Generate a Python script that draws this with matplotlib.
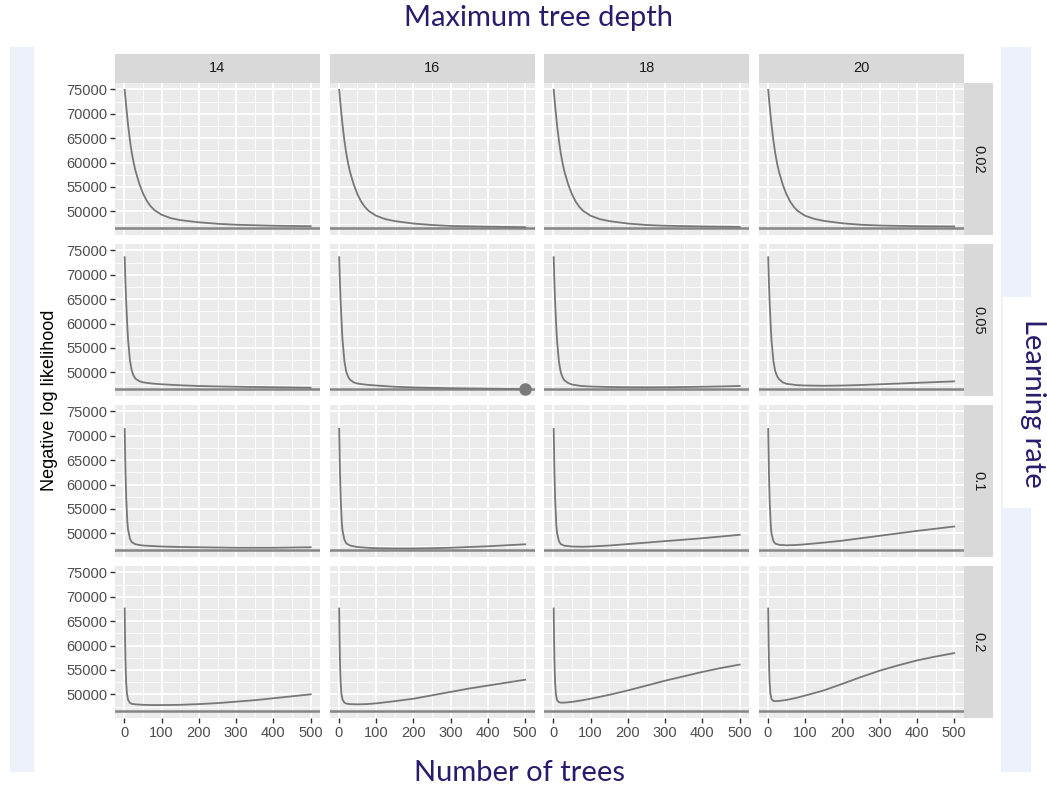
import numpy as np
import matplotlib
matplotlib.use("Agg")
import matplotlib.pyplot as plt
from matplotlib.patches import Rectangle

plt.rcParams['font.family'] = ['Liberation Sans', 'DejaVu Sans']

# Datos
profundidades = ["14", "16", "18", "20"]
tasas = ["0.02", "0.05", "0.1", "0.2"]

x_002 = [1, 5, 10, 15, 20, 25, 30, 40, 50, 60, 70, 80, 100, 125, 150, 200, 250, 300, 400, 500]
y_002 = [
    [74900, 71600, 67800, 64600, 62000, 60000, 58300, 55700, 53700, 52200, 51100, 50300, 49300, 48600, 48200, 47750, 47450, 47250, 47050, 46950],
    [74900, 71500, 67700, 64500, 61900, 59800, 58100, 55500, 53500, 52000, 50900, 50100, 49100, 48400, 48000, 47500, 47200, 47000, 46850, 46750],
    [74900, 71500, 67700, 64500, 61900, 59800, 58100, 55500, 53500, 52000, 50900, 50100, 49100, 48400, 48000, 47500, 47200, 47050, 46900, 46800],
    [74900, 71500, 67700, 64500, 61900, 59800, 58100, 55500, 53500, 52000, 50900, 50100, 49100, 48450, 48050, 47550, 47250, 47100, 46950, 46900],
]

x_005 = [1, 3, 5, 8, 10, 15, 20, 25, 30, 40, 50, 75, 100, 150, 200, 250, 300, 350, 400, 450, 500]
y_005 = [
    [73600, 68500, 64500, 59500, 56800, 52500, 50300, 49300, 48700, 48200, 47950, 47700, 47550, 47350, 47200, 47120, 47050, 47000, 46950, 46900, 46850],
    [73600, 68400, 64300, 59300, 56600, 52300, 50100, 49100, 48500, 47950, 47700, 47450, 47300, 47050, 46900, 46820, 46750, 46700, 46650, 46600, 46566],
    [73600, 68300, 64200, 59200, 56500, 52200, 50000, 48950, 48350, 47800, 47500, 47200, 47100, 47000, 46950, 46930, 46950, 46990, 47050, 47120, 47200],
    [73600, 68300, 64200, 59200, 56500, 52300, 50200, 49200, 48600, 47950, 47650, 47400, 47300, 47250, 47300, 47400, 47550, 47700, 47850, 48000, 48150],
]

x_01 = [1, 3, 5, 8, 10, 15, 20, 30, 50, 75, 100, 150, 200, 250, 300, 350, 400, 450, 500]
y_01 = [
    [71400, 63000, 57500, 52500, 50800, 48900, 48200, 47750, 47500, 47400, 47300, 47200, 47150, 47100, 47050, 47050, 47050, 47100, 47150],
    [71400, 62800, 57200, 52200, 50500, 48700, 47950, 47500, 47200, 47050, 46950, 46900, 46900, 46950, 47050, 47200, 47350, 47550, 47750],
    [71400, 62500, 56800, 51800, 50100, 48400, 47800, 47450, 47300, 47250, 47300, 47500, 47800, 48100, 48400, 48700, 49000, 49350, 49700],
    [71400, 62300, 56500, 51500, 49900, 48400, 47900, 47650, 47550, 47600, 47750, 48100, 48500, 49000, 49500, 50000, 50500, 50950, 51400],
]

x_02 = [1, 2, 3, 4, 5, 7, 10, 15, 20, 30, 50, 75, 100, 150, 200, 250, 300, 350, 400, 450, 500]
y_02 = [
    [67600, 61500, 57300, 54400, 52400, 50200, 48900, 48250, 48050, 47950, 47850, 47800, 47800, 47850, 48000, 48200, 48500, 48800, 49200, 49600, 50000],
    [67600, 61300, 57100, 54200, 52300, 50100, 48900, 48300, 48100, 48000, 47950, 48000, 48150, 48600, 49100, 49800, 50500, 51200, 51800, 52400, 53000],
    [67600, 61200, 57000, 54100, 52200, 50000, 48800, 48400, 48300, 48300, 48450, 48750, 49100, 49900, 50800, 51800, 52800, 53700, 54600, 55400, 56100],
    [67600, 61200, 57000, 54100, 52200, 50100, 49000, 48650, 48600, 48650, 48850, 49250, 49750, 50800, 52150, 53550, 54850, 55950, 56950, 57750, 58450],
]

xs = [x_002, x_005, x_01, x_02]
ys = [y_002, y_005, y_01, y_02]

# Minimo global (linea horizontal y punto)
todos = np.concatenate([np.ravel(y) for y in ys])
minimo = todos.min()
maximo = todos.max()
rango = maximo - minimo
ylim = (minimo - 0.05 * rango, maximo + 0.05 * rango)

W, H = 1047, 787
fig = plt.figure(figsize=(W / 100, H / 100), dpi=100)

def caja(x0, y0, w, h, color, z=0):
    fig.patches.append(Rectangle((x0 / W, 1 - (y0 + h) / H), w / W, h / H,
                                 transform=fig.transFigure, facecolor=color,
                                 edgecolor='none', zorder=z))

# Fondos laterales
caja(10, 47, 24, 725, '#edf1f9')
caja(1001, 47, 30, 725, '#edf1f9')
caja(1003, 297, 44, 211, 'white', z=1)

col_izq = [115, 329.5, 544, 758.5]
fila_sup = [83, 244, 405, 566]
ancho, alto = 205, 152
color_linea = '#777777'

for i in range(4):
    for j in range(4):
        ax = fig.add_axes([col_izq[j] / W, 1 - (fila_sup[i] + alto) / H, ancho / W, alto / H])
        ax.set_facecolor('#ebebeb')
        ax.set_xlim(-25, 525)
        ax.set_ylim(ylim)
        ax.set_xticks(np.arange(0, 501, 100))
        ax.set_xticks(np.arange(50, 500, 100), minor=True)
        ax.set_yticks(np.arange(50000, 75001, 5000))
        ax.set_yticks(np.arange(47500, 75001, 5000), minor=True)
        ax.grid(which='major', color='white', linewidth=1.3)
        ax.grid(which='minor', color='white', linewidth=0.6)
        ax.set_axisbelow(True)
        for s in ax.spines.values():
            s.set_visible(False)
        ax.tick_params(which='minor', length=0)
        ax.tick_params(which='major', length=3.5, width=1.0, color='#333333',
                       labelsize=10.5, labelcolor='#4d4d4d', pad=2)
        if j != 0:
            ax.tick_params(axis='y', length=0, labelleft=False)
        if i != 3:
            ax.tick_params(axis='x', length=0, labelbottom=False)
        ax.axhline(minimo, color='#858585', linewidth=1.8, zorder=2)
        ax.plot(xs[i], ys[i][j], color=color_linea, linewidth=1.3, zorder=3)
        if ys[i][j][-1] == minimo:
            ax.plot(xs[i][-1], minimo, 'o', color='#7a7a7a', markersize=8, zorder=4)

# Tiras de facetas
for j in range(4):
    caja(col_izq[j], 54, ancho, 29, '#d9d9d9')
    fig.text((col_izq[j] + ancho / 2) / W, 1 - 68.5 / H, profundidades[j],
             ha='center', va='center', fontsize=10.5, color='#1a1a1a')
for i in range(4):
    caja(963.5, fila_sup[i], 29, alto, '#d9d9d9')
    fig.text(978 / W, 1 - (fila_sup[i] + alto / 2) / H, tasas[i], rotation=-90,
             ha='center', va='center', fontsize=10.5, color='#1a1a1a')

fig.text(50 / W, 1 - 400 / H, 'Negative log likelihood', rotation=90,
         ha='center', va='center', fontsize=13, color='black')

azul = '#2a1c6c'
fig.text(538 / W, 1 - 18 / H, 'Maximum tree depth', ha='center', va='center',
         fontsize=21, color=azul, family=['Lato', 'DejaVu Sans'])
fig.text(519 / W, 1 - 773 / H, 'Number of trees', ha='center', va='center',
         fontsize=21, color=azul, family=['Lato', 'DejaVu Sans'])
fig.text(1033 / W, 1 - 403 / H, 'Learning rate', rotation=-90, ha='center', va='center',
         fontsize=21, color=azul, family=['Lato', 'DejaVu Sans'], zorder=3)

fig.savefig('out.png', dpi=100)
